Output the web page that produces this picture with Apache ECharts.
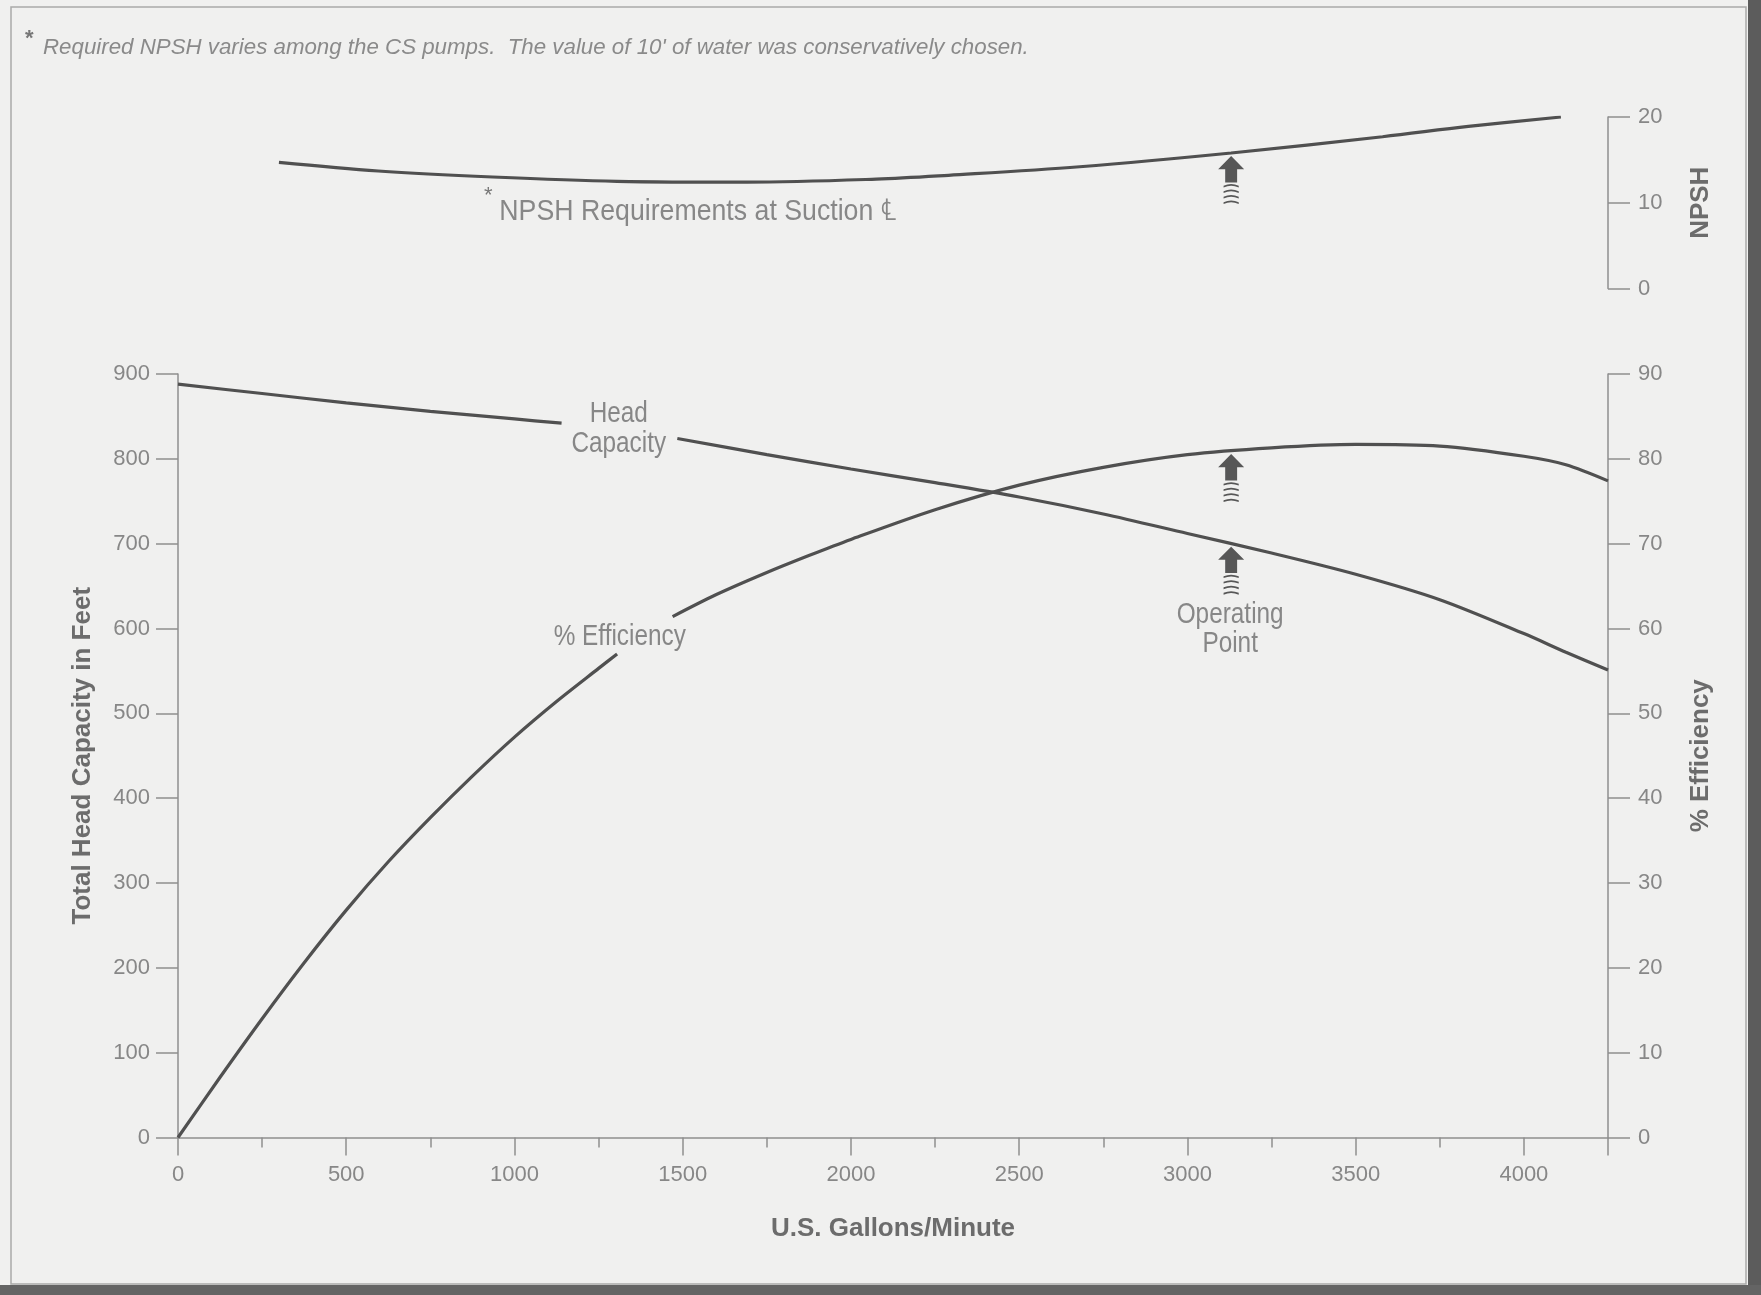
<!DOCTYPE html>
<html>
<head>
<meta charset="utf-8">
<title>CS Pump Performance Curve</title>
<script src="https://cdn.jsdelivr.net/npm/echarts@6.0.0/dist/echarts.min.js"></script>
<style>
html,body{margin:0;padding:0;background:#f0f0ef;}
#chart{width:1761px;height:1295px;}
</style>
</head>
<body>
<div id="chart"></div>
<script>
// ---------------- data ----------------
const xTickLabels = [0, 500, 1000, 1500, 2000, 2500, 3000, 3500, 4000];
const headTickLabels = [0, 100, 200, 300, 400, 500, 600, 700, 800, 900];
const effTickLabels = [0, 10, 20, 30, 40, 50, 60, 70, 80, 90];
const npshTickLabels = [0, 10, 20];

// [US gpm, total head ft]  ('-' = gap where the curve label sits)
const headCapacity = [
  [0, 888], [250, 877], [500, 866], [750, 856], [1000, 847], [1140, 842],
  [1310, '-'],
  [1484, 824], [1750, 805], [2000, 788], [2250, 772], [2500, 755], [2750, 735],
  [3000, 712], [3250, 689], [3500, 664], [3750, 634], [4000, 594], [4125, 572], [4250, 551]
];
// [US gpm, % efficiency]
const efficiency = [
  [0, 0], [125, 7.1], [250, 14.0], [375, 20.6], [500, 26.8], [625, 32.5], [750, 37.7],
  [875, 42.6], [1000, 47.2], [1125, 51.4], [1250, 55.3], [1305, 57.0],
  [1385, '-'],
  [1470, 61.4], [1600, 64.0], [1750, 66.6], [1875, 68.6], [2000, 70.5], [2250, 74.0],
  [2500, 76.9], [2750, 79.0], [3000, 80.5], [3250, 81.3], [3500, 81.7], [3750, 81.5],
  [4000, 80.3], [4125, 79.3], [4250, 77.4]
];
// [US gpm, NPSH ft]
const npshRequired = [
  [300, 14.7], [595, 13.7], [935, 13.0], [1305, 12.5], [1690, 12.4], [2075, 12.75],
  [2290, 13.2], [2680, 14.2], [3130, 15.8], [3580, 17.7], [3835, 18.9], [4110, 20.0]
];
const operatingPointGpm = 3130;

const footnoteText = "Required NPSH varies among the CS pumps.  The value of 10' of water was conservatively chosen.";
const npshLabelText = 'NPSH Requirements at Suction \u2104';

// ---------------- style ----------------
const SANS = "'Liberation Sans', Arial, sans-serif";
const LINE = '#505050';
const AXIS = '#8f8f8f';
const TEXT = '#878787';
const TITLE = '#6c6c6c';

function interp(data, x) {
  const pts = data.filter(d => typeof d[1] === 'number');
  for (let i = 0; i < pts.length - 1; i++) {
    const a = pts[i], b = pts[i + 1];
    if (x >= a[0] && x <= b[0]) return a[1] + (b[1] - a[1]) * (x - a[0]) / (b[0] - a[0]);
  }
  return pts[pts.length - 1][1];
}

const arrowPath = 'path://M12,0 L24,12 L17.5,12 L17.5,24 L6.5,24 L6.5,12 L0,12 Z' +
  ' M5,27 Q12,24 19,27 L19,28.6 Q12,25.6 5,28.6 Z' +
  ' M5,32 Q12,29 19,32 L19,33.6 Q12,30.6 5,33.6 Z' +
  ' M5,37 Q12,34 19,37 L19,38.6 Q12,35.6 5,38.6 Z' +
  ' M5,42 Q12,39 19,42 L19,43.6 Q12,40.6 5,43.6 Z';

function arrowMark(data) {
  return {
    symbol: arrowPath,
    symbolSize: [26, 48],
    symbolOffset: [0, 27],
    symbolKeepAspect: false,
    silent: true,
    animation: false,
    itemStyle: { color: '#575757' },
    label: { show: false },
    data: [{ coord: [operatingPointGpm, interp(data, operatingPointGpm)] }]
  };
}

const axisLineStyle = { color: AXIS, width: 1.5 };
const tickLabel = (list) => ({
  color: TEXT, fontFamily: SANS, fontSize: 22,
  formatter: v => (list.indexOf(v) >= 0 ? String(v) : '')
});
const titleStyle = { color: TITLE, fontFamily: SANS, fontWeight: 'bold', fontSize: 26 };

const gridMain = { left: 178, top: 374, width: 1430, height: 763.5 };
const option = {
  backgroundColor: '#f0f0ef',
  animation: false,
  textStyle: { fontFamily: SANS },
  grid: [
    Object.assign({}, gridMain),
    { left: 178, top: 117, width: 1430, height: 171.5 },
    Object.assign({}, gridMain)
  ],
  xAxis: [
    {
      gridIndex: 0, type: 'value', min: 0, max: 4250, interval: 250,
      axisLine: { show: true, onZero: false, lineStyle: axisLineStyle },
      axisTick: { show: true, length: 10, lineStyle: axisLineStyle },
      splitLine: { show: false },
      axisLabel: Object.assign({ margin: 26 }, tickLabel(xTickLabels)),
      name: 'U.S. Gallons/Minute', nameLocation: 'middle', nameGap: 78,
      nameTextStyle: titleStyle
    },
    { gridIndex: 1, type: 'value', min: 0, max: 4250, show: false, axisLine: { onZero: false } },
    {
      gridIndex: 2, type: 'value', min: 0, max: 4250, interval: 500,
      axisLine: { show: false, onZero: false },
      axisTick: { show: true, length: 18, lineStyle: axisLineStyle },
      axisLabel: { show: false }, splitLine: { show: false }
    }
  ],
  yAxis: [
    {
      gridIndex: 0, type: 'value', position: 'left', min: 0, max: 900, interval: 100,
      axisLine: { show: true, onZero: false, lineStyle: axisLineStyle },
      axisTick: { show: true, length: 22, lineStyle: axisLineStyle },
      splitLine: { show: false },
      axisLabel: Object.assign({ margin: 28 }, tickLabel(headTickLabels)),
      name: 'Total Head Capacity in Feet', nameLocation: 'middle', nameGap: 82, nameRotate: 90,
      nameTextStyle: titleStyle
    },
    {
      gridIndex: 0, type: 'value', position: 'right', min: 0, max: 90, interval: 10,
      axisLine: { show: true, onZero: false, lineStyle: axisLineStyle },
      axisTick: { show: true, length: 22, lineStyle: axisLineStyle },
      splitLine: { show: false },
      axisLabel: Object.assign({ margin: 30 }, tickLabel(effTickLabels)),
      name: '% Efficiency', nameLocation: 'middle', nameGap: 80, nameRotate: 90,
      nameTextStyle: titleStyle
    },
    {
      gridIndex: 1, type: 'value', position: 'right', min: 0, max: 20, interval: 10,
      axisLine: { show: true, onZero: false, lineStyle: axisLineStyle },
      axisTick: { show: true, length: 22, lineStyle: axisLineStyle },
      splitLine: { show: false },
      axisLabel: Object.assign({ margin: 30 }, tickLabel(npshTickLabels)),
      name: 'NPSH', nameLocation: 'middle', nameGap: 80, nameRotate: 90,
      nameTextStyle: titleStyle
    },
    { gridIndex: 2, type: 'value', min: 0, max: 1, show: false, axisLine: { onZero: false } }
  ],
  series: [
    {
      name: 'NPSH', type: 'line', xAxisIndex: 1, yAxisIndex: 2,
      data: npshRequired, smooth: 0.35, symbol: 'none', connectNulls: false,
      lineStyle: { color: LINE, width: 3.2 }, markPoint: arrowMark(npshRequired)
    },
    {
      name: 'Head Capacity', type: 'line', xAxisIndex: 0, yAxisIndex: 0,
      data: headCapacity, smooth: 0.3, symbol: 'none', connectNulls: false,
      lineStyle: { color: LINE, width: 3.2 }, markPoint: arrowMark(headCapacity)
    },
    {
      name: '% Efficiency', type: 'line', xAxisIndex: 0, yAxisIndex: 1,
      data: efficiency, smooth: 0.3, symbol: 'none', connectNulls: false,
      lineStyle: { color: LINE, width: 3.2 }, markPoint: arrowMark(efficiency)
    }
  ]
};

const chart = echarts.init(document.getElementById('chart'), null, { renderer: 'canvas' });
chart.setOption(option);

const px = (xi, yi, pt) => chart.convertToPixel({ xAxisIndex: xi, yAxisIndex: yi }, pt);
const headLbl = px(0, 0, [1310, 835]);
const effLbl = px(0, 1, [1313, 59.0]);
const opLbl = px(0, 0, [3127, 599]);
const npshLbl = px(1, 2, [955, 8.96]);
const npshStar = px(1, 2, [922, 10.8]);

const labelFont = '29px ' + SANS;
const condensed = 0.84;
chart.setOption({
  graphic: [
    // scanned page frame and dark scan edges
    { type: 'rect', silent: true, shape: { x: 11, y: 7, width: 1735, height: 1277 },
      style: { fill: 'none', stroke: '#a9a9a9', lineWidth: 1.5 } },
    { type: 'rect', silent: true, shape: { x: 1748, y: 0, width: 13, height: 1295 },
      style: { fill: '#5c5c5c' } },
    { type: 'rect', silent: true, shape: { x: 0, y: 1285, width: 1761, height: 10 },
      style: { fill: '#646464' } },
    // footnote
    { type: 'text', silent: true, x: 25, y: 28,
      style: { text: '*', fill: '#777', font: 'bold 22px ' + SANS } },
    { type: 'text', silent: true, x: 43, y: 48,
      style: { text: footnoteText, fill: '#8a8a8a', font: 'italic 22.3px ' + SANS,
        verticalAlign: 'middle', align: 'left' } },
    // curve labels (slightly condensed, like the original lettering)
    { type: 'text', silent: true, x: headLbl[0], y: headLbl[1], scaleX: condensed,
      style: { text: 'Head\nCapacity', fill: TEXT, font: labelFont, lineHeight: 30,
        align: 'center', verticalAlign: 'middle' } },
    { type: 'text', silent: true, x: effLbl[0], y: effLbl[1], scaleX: condensed,
      style: { text: '% Efficiency', fill: TEXT, font: labelFont,
        align: 'center', verticalAlign: 'middle' } },
    { type: 'text', silent: true, x: opLbl[0], y: opLbl[1], scaleX: condensed,
      style: { text: 'Operating\nPoint', fill: TEXT, font: labelFont, lineHeight: 29,
        align: 'center', verticalAlign: 'middle' } },
    { type: 'text', silent: true, x: npshStar[0], y: npshStar[1],
      style: { text: '*', fill: '#777', font: '22px ' + SANS,
        align: 'center', verticalAlign: 'middle' } },
    { type: 'text', silent: true, x: npshLbl[0], y: npshLbl[1], scaleX: 0.89,
      style: { text: npshLabelText, fill: TEXT, font: '30px ' + SANS,
        align: 'left', verticalAlign: 'middle' } }
  ]
});
</script>
</body>
</html>
